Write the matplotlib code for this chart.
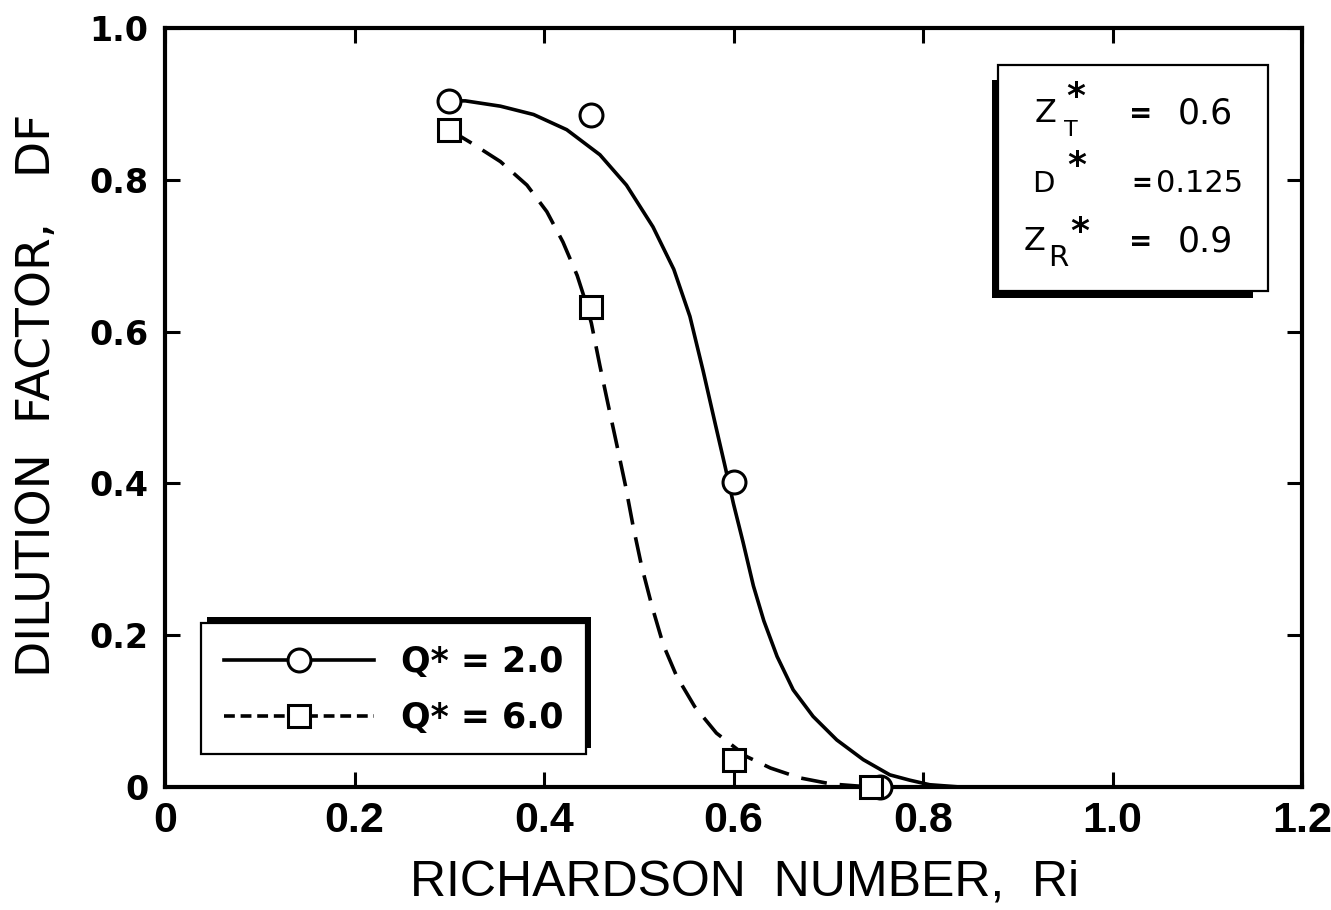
import matplotlib
matplotlib.use("Agg")
import matplotlib.pyplot as plt
from matplotlib.patches import Rectangle
from matplotlib.lines import Line2D

# ---------------- data ----------------
# measured points, Q* = 2.0 (circles) and Q* = 6.0 (squares)
q2_x = [0.30, 0.45, 0.60, 0.755]
q2_y = [0.904, 0.885, 0.402, 0.0]
q6_x = [0.30, 0.45, 0.60, 0.745]
q6_y = [0.866, 0.632, 0.036, 0.0]

# fitted curve, Q* = 2.0 (solid)
fit2_x = [0.301, 0.317, 0.354, 0.389, 0.424, 0.459, 0.487, 0.515, 0.537, 0.554,
          0.568, 0.581, 0.591, 0.600, 0.610, 0.621, 0.632, 0.646, 0.663, 0.684,
          0.709, 0.737, 0.765, 0.786, 0.807, 0.839, 0.870]
fit2_y = [0.904, 0.904, 0.897, 0.886, 0.866, 0.833, 0.793, 0.738, 0.682, 0.620,
          0.548, 0.477, 0.423, 0.373, 0.323, 0.265, 0.219, 0.172, 0.128, 0.093,
          0.062, 0.036, 0.016, 0.009, 0.003, 0.0, 0.0]

# fitted curve, Q* = 6.0 (dashed)
fit6_x = [0.300, 0.324, 0.354, 0.382, 0.403, 0.420, 0.435, 0.443, 0.450, 0.459,
          0.468, 0.477, 0.486, 0.494, 0.503, 0.514, 0.526, 0.540, 0.559, 0.582,
          0.614, 0.639, 0.670, 0.703, 0.744]
fit6_y = [0.866, 0.848, 0.824, 0.793, 0.758, 0.718, 0.674, 0.643, 0.611, 0.555,
          0.502, 0.450, 0.397, 0.344, 0.291, 0.238, 0.187, 0.146, 0.106, 0.071,
          0.040, 0.025, 0.012, 0.004, 0.0]

x_ticks = [0, 0.2, 0.4, 0.6, 0.8, 1.0, 1.2]
x_tick_labels = ["0", "0.2", "0.4", "0.6", "0.8", "1.0", "1.2"]
y_ticks = [0, 0.2, 0.4, 0.6, 0.8, 1.0]
y_tick_labels = ["0", "0.2", "0.4", "0.6", "0.8", "1.0"]

series_labels = ["Q* = 2.0", "Q* = 6.0"]
x_label = "RICHARDSON  NUMBER,  Ri"
y_label = "DILUTION  FACTOR,   DF"

# ---------------- figure ----------------
W, H = 1331, 910
fig = plt.figure(figsize=(W / 100, H / 100), dpi=100)
fig.patch.set_facecolor("white")


def fx(px):
    return px / W


def fy(py):
    return 1 - py / H


ax = fig.add_axes([fx(165), fy(787), (1302 - 165) / W, (787 - 28) / H])
ax.set_xlim(0, 1.2)
ax.set_ylim(0, 1.0)

for s in ax.spines.values():
    s.set_linewidth(3.0)
    s.set_color("black")

ax.set_xticks(x_ticks)
ax.set_xticklabels(x_tick_labels, family="Liberation Sans",
                   fontweight="bold", fontsize=31)
ax.set_yticks(y_ticks)
ax.set_yticklabels(y_tick_labels, family="DejaVu Sans", fontweight="bold",
                   fontsize=24)
ax.tick_params(axis="both", direction="in", length=11, width=2.2,
               top=True, right=True, color="black")
ax.tick_params(axis="x", pad=10)
ax.tick_params(axis="y", pad=12)

LW = 2.6
ax.plot(fit2_x, fit2_y, color="black", lw=LW, solid_capstyle="butt",
        solid_joinstyle="round", zorder=2, clip_on=False)
ax.plot(fit6_x, fit6_y, color="black", lw=LW, dashes=(7.2, 3.6),
        dash_capstyle="butt", dash_joinstyle="round", zorder=2, clip_on=False)
ax.plot(q2_x, q2_y, ls="none", marker="o", ms=16.5, mfc="white",
        mec="black", mew=2.2, zorder=3, clip_on=False)
ax.plot(q6_x, q6_y, ls="none", marker="s", ms=16.5, mfc="white",
        mec="black", mew=2.2, zorder=4, clip_on=False)

# axis labels
fig.text(fx(745), fy(882), x_label, ha="center", va="center",
         family="Liberation Sans", fontsize=36)
fig.text(fx(38), fy(395), y_label, rotation=90, ha="center", va="center",
         family="DejaVu Sans", fontsize=34)


# ---------------- boxes with offset shadows ----------------
def add_rect(x0, y0, x1, y1, face, edge, lw, z):
    r = Rectangle((fx(x0), fy(y1)), (x1 - x0) / W, (y1 - y0) / H,
                  transform=fig.transFigure, facecolor=face, edgecolor=edge,
                  linewidth=lw, zorder=z, clip_on=False)
    ax.add_artist(r)


# parameter box (shadow lower-left)
add_rect(992, 80, 1253, 298, "black", "black", 0, 6)
add_rect(998, 65, 1268, 291, "white", "black", 1.6, 6.1)
# legend box (shadow upper-right)
add_rect(207, 617, 591, 748, "black", "black", 0, 6)
add_rect(201, 623, 586, 754, "white", "black", 1.6, 6.1)

# ---------------- legend ----------------
h2 = Line2D([], [], color="black", lw=LW, marker="o", ms=16.5,
            mfc="white", mec="black", mew=2.2)
h6 = Line2D([], [], color="black", lw=LW, dashes=(3.0, 1.6), marker="s",
            ms=16.5, mfc="white", mec="black", mew=2.2)
leg = ax.legend([h2, h6], series_labels, loc="center",
                bbox_to_anchor=(fx(394), fy(690)),
                bbox_transform=fig.transFigure, frameon=False,
                handlelength=4.3, handletextpad=0.8, labelspacing=0.65,
                numpoints=1, borderaxespad=0,
                prop={"family": "DejaVu Sans", "weight": "bold", "size": 25})
leg.set_zorder(7)

# ---------------- parameter text ----------------
pt = dict(family="DejaVu Sans", color="black", zorder=8)
# row 1 : Z*_T = 0.6
fig.text(fx(1046), fy(114), "Z", ha="center", va="center", fontsize=23, **pt)
fig.text(fx(1076), fy(97), "*", ha="center", va="center", fontsize=26,
         fontweight="bold", **pt)
fig.text(fx(1071), fy(130), "T", ha="center", va="center", fontsize=16, **pt)
fig.text(fx(1141), fy(114), "=", ha="center", va="center", fontsize=20,
         fontweight="bold", **pt)
fig.text(fx(1205), fy(114), "0.6", ha="center", va="center", fontsize=25, **pt)
# row 2 : D* = 0.125
fig.text(fx(1043), fy(184), "D", ha="center", va="center", fontsize=21, **pt)
fig.text(fx(1077), fy(166), "*", ha="center", va="center", fontsize=26,
         fontweight="bold", **pt)
fig.text(fx(1142), fy(184), "=", ha="center", va="center", fontsize=18,
         fontweight="bold", **pt)
fig.text(fx(1200), fy(183), "0.125", ha="center", va="center", fontsize=22,
         **pt)
# row 3 : Z_R* = 0.9
fig.text(fx(1035), fy(241), "Z", ha="center", va="center", fontsize=23, **pt)
fig.text(fx(1058), fy(258), "R", ha="center", va="center", fontsize=21, **pt)
fig.text(fx(1080), fy(232), "*", ha="center", va="center", fontsize=26,
         fontweight="bold", **pt)
fig.text(fx(1141), fy(242), "=", ha="center", va="center", fontsize=20,
         fontweight="bold", **pt)
fig.text(fx(1205), fy(241), "0.9", ha="center", va="center", fontsize=25, **pt)

fig.savefig("out.png", dpi=100, facecolor="white")
